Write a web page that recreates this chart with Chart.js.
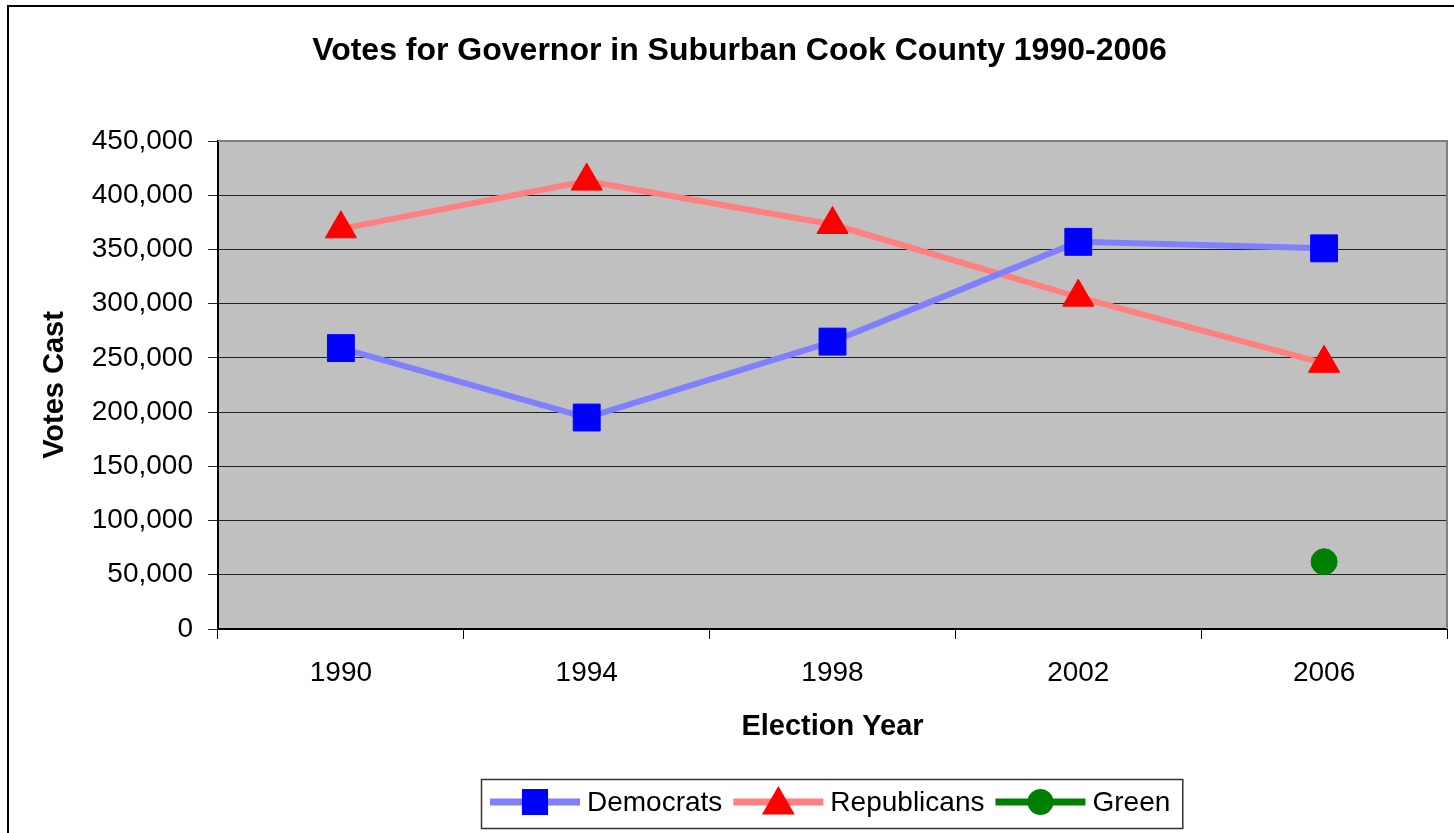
<!DOCTYPE html>
<html>
<head>
<meta charset="utf-8">
<script src="https://cdn.jsdelivr.net/npm/chart.js@4.4.1/dist/chart.umd.min.js"></script>
<style>
  html, body { margin: 0; padding: 0; background: #fff; }
  #wrap { width: 1454px; height: 833px; }
</style>
</head>
<body>
<div id="wrap"><canvas id="govChart" width="1454" height="833"></canvas></div>
<script>
// Votes for Governor, suburban Cook County
const years = ['1990', '1994', '1998', '2002', '2006'];
const democrats = [259000, 195000, 265000, 357000, 351000];
const republicans = [369000, 413000, 373000, 306000, 245000];
const green = [null, null, null, null, 62000];
const yTicks = [0, 50000, 100000, 150000, 200000, 250000, 300000, 350000, 400000, 450000];

const FONT = '"Liberation Sans", Arial, sans-serif';

// grey plot background + chart frame
const plotBackground = {
    id: 'plotBackground',
    beforeDraw(chart) {
        const { ctx, chartArea: a } = chart;
        ctx.save();
        ctx.strokeStyle = '#000';
        ctx.lineWidth = 2;
        ctx.strokeRect(8, 6, chart.width + 20, chart.height + 20);
        ctx.fillStyle = '#c0c0c0';
        ctx.fillRect(a.left, a.top, a.right - a.left, a.bottom - a.top);
        ctx.restore();
    },
    beforeDatasetsDraw(chart) {
        const { ctx, chartArea: a } = chart;
        ctx.save();
        ctx.strokeStyle = '#808080';
        ctx.lineWidth = 2;
        ctx.beginPath();
        ctx.moveTo(a.left, a.top);
        ctx.lineTo(a.right, a.top);
        ctx.lineTo(a.right, a.bottom);
        ctx.stroke();
        ctx.restore();
    }
};

// Excel style legend: line + marker + label inside a box
const boxLegend = {
    id: 'boxLegend',
    afterDraw(chart) {
        const { ctx, chartArea: a } = chart;
        const sets = chart.data.datasets;
        const lineLen = 90, gapText = 7, gapItem = 11, padL = 9, padR = 12;
        ctx.save();
        ctx.font = '28px ' + FONT;
        let total = padL + padR;
        sets.forEach((ds, i) => {
            total += lineLen + gapText + ctx.measureText(ds.label).width;
            if (i < sets.length - 1) total += gapItem;
        });
        const boxH = 49, boxTop = 779;
        const boxLeft = Math.round((a.left + a.right) / 2 - 1 - total / 2);
        ctx.strokeStyle = '#333';
        ctx.lineWidth = 1.5;
        ctx.strokeRect(boxLeft + 0.5, boxTop + 0.5, total, boxH);
        const cy = 802;
        let x = boxLeft + padL;
        sets.forEach(ds => {
            ctx.strokeStyle = ds.borderColor;
            ctx.lineWidth = 7;
            ctx.beginPath();
            ctx.moveTo(x, cy);
            ctx.lineTo(x + lineLen, cy);
            ctx.stroke();
            ctx.fillStyle = ds.pointBackgroundColor;
            ctx.strokeStyle = ds.pointBackgroundColor;
            const r = ds.pointStyle === 'rect' ? 13.5 : (ds.pointStyle === 'triangle' ? 12 : 9.5);
            const yOff = ds.pointStyle === 'triangle' ? 3 : 0;
            Chart.helpers.drawPoint(ctx, { pointStyle: ds.pointStyle, radius: r, rotation: 0, borderWidth: 1 }, x + lineLen / 2, cy + yOff);
            ctx.fillStyle = '#000';
            ctx.textBaseline = 'middle';
            ctx.textAlign = 'left';
            ctx.fillText(ds.label, x + lineLen + gapText, cy + 1);
            x += lineLen + gapText + ctx.measureText(ds.label).width + gapItem;
        });
        ctx.restore();
    }
};

const ctx = document.getElementById('govChart').getContext('2d');
new Chart(ctx, {
    type: 'line',
    data: {
        labels: years,
        datasets: [
            {
                label: 'Democrats',
                data: democrats,
                borderColor: '#8080ff',
                borderWidth: 6,
                pointStyle: 'rect',
                pointRadius: 19,
                pointBackgroundColor: '#0000ff',
                pointBorderColor: '#0000ff',
                pointBorderWidth: 1,
                tension: 0
            },
            {
                label: 'Republicans',
                data: republicans,
                borderColor: '#ff8080',
                borderWidth: 6,
                pointStyle: 'triangle',
                pointRadius: 18,
                pointBackgroundColor: '#ff0000',
                pointBorderColor: '#ff0000',
                pointBorderWidth: 1,
                tension: 0
            },
            {
                label: 'Green',
                data: green,
                borderColor: '#008000',
                borderWidth: 6,
                pointStyle: 'circle',
                pointRadius: 13,
                pointBackgroundColor: '#008000',
                pointBorderColor: '#008000',
                pointBorderWidth: 1,
                tension: 0
            }
        ]
    },
    options: {
        responsive: false,
        animation: false,
        devicePixelRatio: 1,
        layout: { autoPadding: false, padding: { left: 32, right: 7, top: 0, bottom: 84 } },
        plugins: {
            legend: { display: false },
            tooltip: { enabled: false },
            title: {
                display: true,
                text: 'Votes for Governor in Suburban Cook County 1990-2006',
                color: '#000',
                font: { family: FONT, size: 32, weight: 'bold' },
                padding: { top: 32, bottom: 70.6 }
            }
        },
        scales: {
            x: {
                type: 'category',
                offset: true,
                afterFit(scale) { scale.height = 120; },
                grid: { drawOnChartArea: false, offset: true, tickLength: 10, color: '#000', lineWidth: 1 },
                border: { display: true, color: '#000', width: 2 },
                ticks: { color: '#000', padding: 17, font: { family: FONT, size: 28 } },
                title: {
                    display: true,
                    text: 'Election Year',
                    color: '#000',
                    font: { family: FONT, size: 29, weight: 'bold' },
                    padding: { top: 0, bottom: 5 }
                }
            },
            y: {
                min: 0,
                max: 450000,
                afterFit(scale) { scale.width = 186; },
                afterBuildTicks(scale) { scale.ticks = yTicks.map(v => ({ value: v })); },
                grid: { color: '#222', lineWidth: 1, tickLength: 10 },
                border: { display: true, color: '#000', width: 2 },
                ticks: {
                    color: '#000',
                    padding: 15,
                    font: { family: FONT, size: 28 },
                    callback: v => v.toLocaleString('en-US')
                },
                title: {
                    display: true,
                    text: 'Votes Cast',
                    color: '#000',
                    font: { family: FONT, size: 29, weight: 'bold' },
                    padding: { top: 6, bottom: 0 }
                }
            }
        }
    },
    plugins: [plotBackground, boxLegend]
});
</script>
</body>
</html>
